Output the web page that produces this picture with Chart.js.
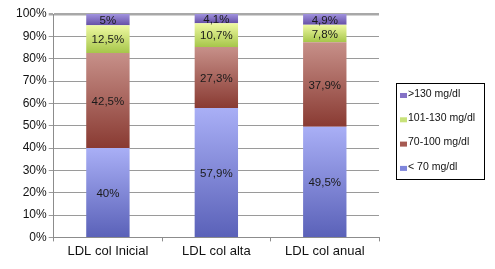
<!DOCTYPE html>
<html>
<head>
<meta charset="utf-8">
<script src="https://cdn.jsdelivr.net/npm/chart.js@4.4.0/dist/chart.umd.min.js"></script>
<style>
  html, body { margin: 0; padding: 0; background: #fff; }
  #wrap { width: 495px; height: 269px; }
</style>
</head>
<body>
<div id="wrap"><canvas id="ldlChart" width="495" height="269"></canvas></div>
<script>
const categories = ['LDL col Inicial', 'LDL col alta', 'LDL col anual'];
const seriesLabels = ['< 70 mg/dl', '70-100 mg/dl', '101-130 mg/dl', '>130 mg/dl'];
const below70 = [40, 57.9, 49.5];
const from70to100 = [42.5, 27.3, 37.9];
const from101to130 = [12.5, 10.7, 7.8];
const above130 = [5, 4.1, 4.9];
const yTicks = [0, 10, 20, 30, 40, 50, 60, 70, 80, 90, 100];

const seriesValues = [below70, from70to100, from101to130, above130];
// top / bottom colour of each segment gradient, plus legend swatch
const gradStops = [
  ['#a9aff6', '#5a61b8'],
  ['#c79089', '#893a32'],
  ['#eff9a2', '#a6c64a'],
  ['#a092de', '#6650a6']
];
const swatch = ['#7f86dc', '#a65a52', '#c8e27a', '#8572c6'];

const fontFamily = '"Liberation Sans", Arial, sans-serif';

function segmentGradient(context) {
  const chart = context.chart;
  const di = context.datasetIndex;
  const fallback = swatch[di];
  if (context.type !== 'data' || !chart.chartArea || !chart.scales.y) return fallback;
  const i = context.dataIndex;
  let base = 0;
  for (let k = 0; k < di; k++) base += seriesValues[k][i];
  const top = base + seriesValues[di][i];
  const y = chart.scales.y;
  const y0 = y.getPixelForValue(Math.min(top, 100));
  const y1 = y.getPixelForValue(base);
  if (!isFinite(y0) || !isFinite(y1) || y0 === y1) return fallback;
  const g = chart.ctx.createLinearGradient(0, y0, 0, y1);
  g.addColorStop(0, gradStops[di][0]);
  g.addColorStop(1, gradStops[di][1]);
  return g;
}

function fmt(v) {
  return String(v).replace('.', ',') + '%';
}

const segmentLabels = {
  id: 'segmentLabels',
  afterDatasetsDraw(chart) {
    const ctx = chart.ctx;
    ctx.save();
    ctx.font = '11.5px ' + fontFamily;
    ctx.fillStyle = '#1a1a1a';
    ctx.textAlign = 'center';
    ctx.textBaseline = 'middle';
    chart.data.datasets.forEach((ds, di) => {
      const meta = chart.getDatasetMeta(di);
      meta.data.forEach((bar, i) => {
        const yTop = Math.max(bar.y, chart.chartArea.top);
        const yMid = (yTop + bar.base) / 2;
        ctx.fillText(fmt(ds.data[i]), bar.x, yMid + 1);
      });
    });
    ctx.restore();
  }
};

const boxedLegend = {
  id: 'boxedLegend',
  afterDraw(chart) {
    const ctx = chart.ctx;
    const left = 396, top = 83, w = 88, h = 96;
    ctx.save();
    ctx.strokeStyle = '#000';
    ctx.lineWidth = 1;
    ctx.strokeRect(left + 0.5, top + 0.5, w, h);
    ctx.font = '10.5px ' + fontFamily;
    ctx.fillStyle = '#111';
    ctx.textBaseline = 'middle';
    const order = [3, 2, 1, 0];
    order.forEach((di, row) => {
      const cy = top + 11 + row * 24.3;
      ctx.fillStyle = swatch[di];
      ctx.fillRect(400, cy - 1, 7, 5);
      ctx.fillStyle = '#111';
      ctx.fillText(seriesLabels[di], 408, cy);
    });
    ctx.restore();
  }
};

new Chart(document.getElementById('ldlChart'), {
  type: 'bar',
  data: {
    labels: categories,
    datasets: seriesValues.map((vals, di) => ({
      label: seriesLabels[di],
      data: vals,
      backgroundColor: segmentGradient,
      borderWidth: 0,
      categoryPercentage: 1,
      barPercentage: 0.4
    }))
  },
  options: {
    responsive: false,
    animation: false,
    layout: { padding: { left: 14, right: 116, top: 14, bottom: 8 } },
    plugins: {
      legend: { display: false },
      tooltip: { enabled: false }
    },
    scales: {
      x: {
        stacked: true,
        grid: {
          display: true,
          drawOnChartArea: false,
          drawTicks: true,
          tickLength: 4,
          color: '#8c8c8c',
          offset: true
        },
        border: { color: '#8c8c8c', width: 1 },
        ticks: {
          color: '#111',
          font: { family: fontFamily, size: 13 },
          padding: 2
        }
      },
      y: {
        stacked: true,
        min: 0,
        max: 100,
        afterBuildTicks(scale) {
          scale.ticks = yTicks.map(v => ({ value: v }));
        },
        grid: {
          color: ctx => (ctx.tick && ctx.tick.value === 100) ? '#a8a8a8' : '#9a9a9a',
          lineWidth: ctx => (ctx.tick && ctx.tick.value === 100) ? 2.5 : 1,
          tickLength: 5
        },
        border: { color: '#8c8c8c', width: 1 },
        ticks: {
          color: '#111',
          font: { family: fontFamily, size: 12 },
          padding: 2,
          callback: v => v + '%'
        }
      }
    }
  },
  plugins: [segmentLabels, boxedLegend]
});
</script>
</body>
</html>
